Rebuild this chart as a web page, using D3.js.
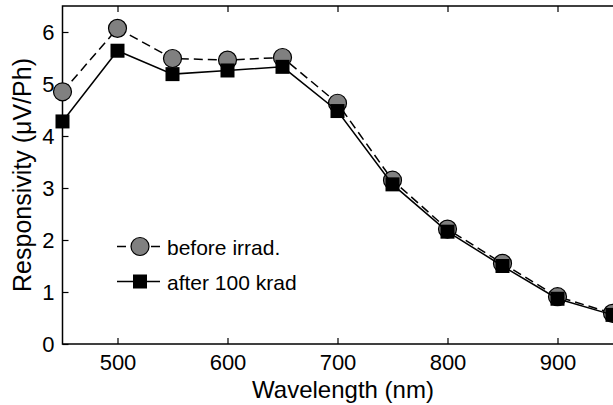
<!DOCTYPE html>
<html>
<head>
<meta charset="utf-8">
<script src="https://cdn.jsdelivr.net/npm/d3@7"></script>
<style>
  body { margin: 0; background: #fff; }
  text { font-family: "Liberation Sans", Arial, sans-serif; fill: #000; }
</style>
</head>
<body>
<div id="chart"></div>
<script>
var wavelengths = [450, 500, 550, 600, 650, 700, 750, 800, 850, 900, 950];
var beforeIrrad = [4.85, 6.07, 5.49, 5.46, 5.51, 4.63, 3.15, 2.21, 1.55, 0.91, 0.59];
var after100krad = [4.28, 5.64, 5.19, 5.26, 5.33, 4.48, 3.07, 2.16, 1.50, 0.87, 0.56];
var xTicks = [500, 600, 700, 800, 900];
var yTicks = [0, 1, 2, 3, 4, 5, 6];
var legendLabels = ["before irrad.", "after 100 krad"];

var width = 613, height = 405;
var margin = { left: 62.5, top: 6, right: -10.5, bottom: 61 };

var svg = d3.select("#chart").append("svg")
    .attr("width", width)
    .attr("height", height);

var x = d3.scaleLinear()
    .domain([450, 960])
    .range([margin.left, width - margin.right]);

var y = d3.scaleLinear()
    .domain([0, 6.5])
    .range([height - margin.bottom, margin.top]);

var before = wavelengths.map(function(w, i) { return { x: w, y: beforeIrrad[i] }; });
var after = wavelengths.map(function(w, i) { return { x: w, y: after100krad[i] }; });

// frame
svg.append("rect")
    .attr("x", x(450))
    .attr("y", y(6.5))
    .attr("width", x(960) - x(450))
    .attr("height", y(0) - y(6.5))
    .attr("fill", "none")
    .attr("stroke", "#000")
    .attr("stroke-width", 1.5);

// axes with inward ticks
var xAxis = svg.append("g")
    .attr("transform", `translate(0,${y(0)})`)
    .call(d3.axisBottom(x).tickValues(xTicks).tickSize(-6).tickPadding(10).tickFormat(d3.format("d")));
var xAxisTop = svg.append("g")
    .attr("transform", `translate(0,${y(6.5)})`)
    .call(d3.axisTop(x).tickValues(xTicks).tickSize(-6).tickFormat(""));
var yAxis = svg.append("g")
    .attr("transform", `translate(${x(450)},0)`)
    .call(d3.axisLeft(y).tickValues(yTicks).tickSize(-6).tickPadding(8).tickFormat(d3.format("d")));

[xAxis, xAxisTop, yAxis].forEach(function(g) {
    g.select(".domain").remove();
    g.selectAll(".tick line").attr("stroke", "#000").attr("stroke-width", 1.2);
    g.selectAll(".tick text").style("font-size", "22px").attr("fill", "#000");
});

var line = d3.line()
    .x(function(d) { return x(d.x); })
    .y(function(d) { return y(d.y); });

// before irradiation: dashed line + gray circles
svg.append("path")
    .datum(before)
    .attr("d", line)
    .attr("fill", "none")
    .attr("stroke", "#000")
    .attr("stroke-width", 1.5)
    .attr("stroke-dasharray", "9,5");

svg.selectAll(".circ")
    .data(before).enter()
    .append("circle")
    .attr("class", "circ")
    .attr("cx", function(d) { return x(d.x); })
    .attr("cy", function(d) { return y(d.y); })
    .attr("r", 9)
    .attr("fill", "#808080")
    .attr("stroke", "#000")
    .attr("stroke-width", 1.2);

// after irradiation: solid line + black squares
svg.append("path")
    .datum(after)
    .attr("d", line)
    .attr("fill", "none")
    .attr("stroke", "#000")
    .attr("stroke-width", 1.5);

svg.selectAll(".sq")
    .data(after).enter()
    .append("rect")
    .attr("class", "sq")
    .attr("x", function(d) { return x(d.x) - 7; })
    .attr("y", function(d) { return y(d.y) - 7; })
    .attr("width", 14)
    .attr("height", 14)
    .attr("fill", "#000");

// legend
var legend = svg.selectAll(".legend")
    .data(legendLabels).enter()
    .append("g")
    .attr("class", "legend")
    .attr("transform", function(d, i) { return `translate(117, ${246.5 + i * 35})`; });

legend.append("line")
    .attr("x1", 0).attr("x2", 43)
    .attr("y1", 0).attr("y2", 0)
    .attr("stroke", "#000")
    .attr("stroke-width", 1.5)
    .attr("stroke-dasharray", function(d, i) { return i === 0 ? "9,5,15,5,9" : null; });

legend.each(function(d, i) {
    var g = d3.select(this);
    if (i === 0) {
        g.append("circle").attr("cx", 23).attr("cy", 0).attr("r", 9)
            .attr("fill", "#808080").attr("stroke", "#000").attr("stroke-width", 1.2);
    } else {
        g.append("rect").attr("x", 16).attr("y", -7).attr("width", 14).attr("height", 14)
            .attr("fill", "#000");
    }
});

legend.append("text")
    .attr("x", 50)
    .attr("y", 8)
    .style("font-size", "21px")
    .text(function(d) { return d; });

// axis titles
svg.append("text")
    .attr("x", 343)
    .attr("y", 398)
    .attr("text-anchor", "middle")
    .style("font-size", "24px")
    .text("Wavelength (nm)");

svg.append("text")
    .attr("transform", "translate(31,175) rotate(-90)")
    .attr("text-anchor", "middle")
    .style("font-size", "25px")
    .text("Responsivity (\u03bcV/Ph)");
</script>
</body>
</html>
